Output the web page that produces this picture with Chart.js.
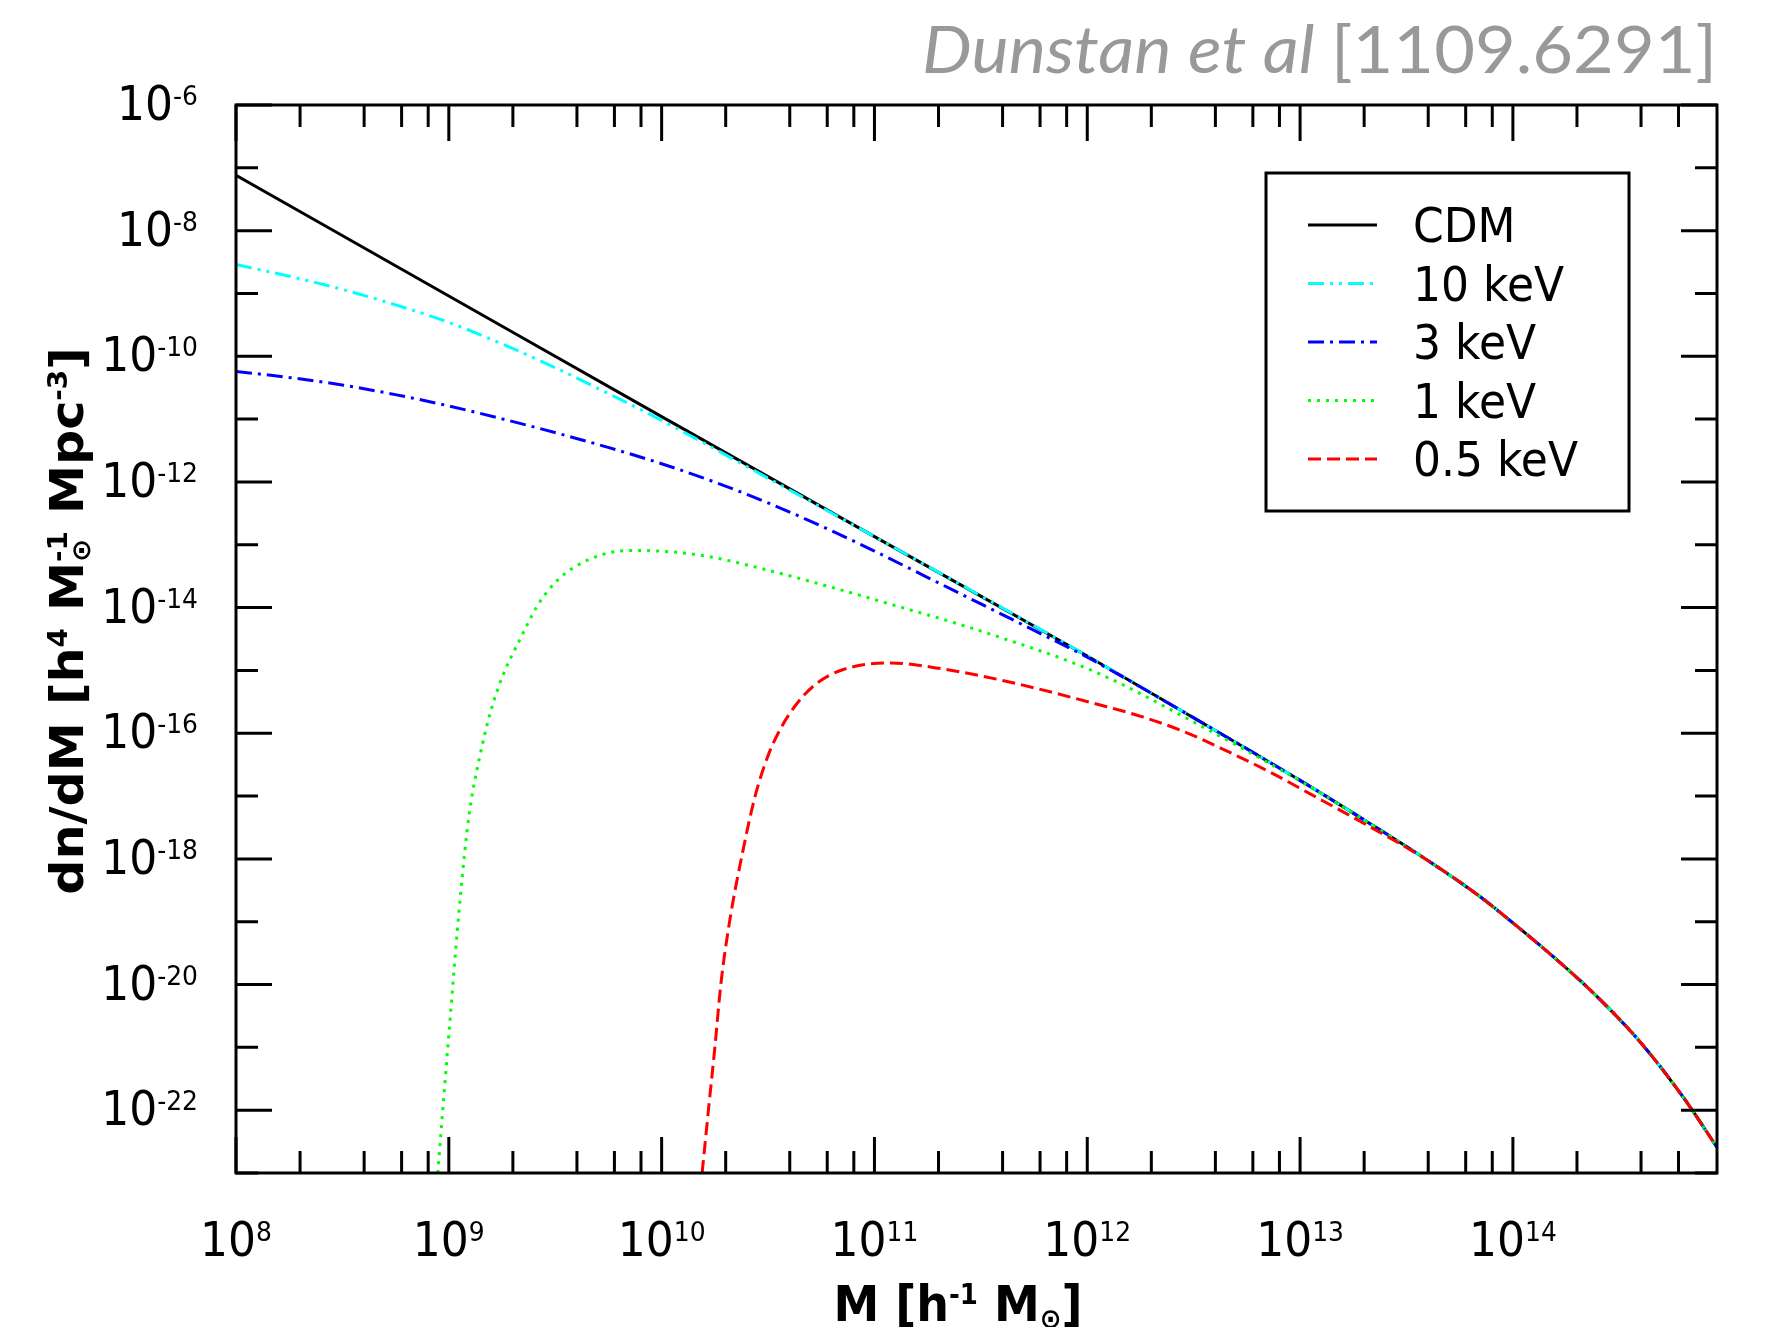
<!DOCTYPE html>
<html>
<head>
<meta charset="utf-8">
<script src="https://cdn.jsdelivr.net/npm/chart.js@4.4.1/dist/chart.umd.min.js"></script>
<style>
  html, body { margin: 0; padding: 0; background: #fff; }
  #wrap { width: 1768px; height: 1327px; position: relative; }
</style>
</head>
<body>
<div id="wrap"><canvas id="hmf"></canvas></div>
<script>
// halo mass function dn/dM (log-log)
const cdmMass = [1e8, 1e9, 1e10, 1e11, 1e12, 3e12, 1e13, 2e13];
const cdmDn = [7.59e-8, 9.12e-10, 1.096e-11, 1.349e-13, 1.698e-15, 1.95e-16, 1.778e-17, 4.169e-18];

const kev10Mass = [1e8, 1.8e8, 3.2e8, 5.6e8, 1e9, 1.8e9, 3.2e9, 5.6e9, 1e10, 3.2e10, 1e11, 1e12, 3e12, 1e13, 2e13];
const kev10Dn = [2.884e-9, 1.862e-9, 1.148e-9, 6.607e-10, 3.467e-10, 1.549e-10, 6.457e-11, 2.570e-11, 9.55e-12,
  1.122e-12, 1.349e-13, 1.698e-15, 1.95e-16, 1.778e-17, 4.169e-18];

const kev3Mass = [1e8, 1.8e8, 3.2e8, 5.6e8, 1e9, 1.8e9, 3.2e9, 5.6e9, 1e10, 1.8e10, 3.2e10, 5.6e10, 1e11, 1.8e11,
  3.2e11, 5.6e11, 1e12, 3e12, 1e13, 2e13];
const kev3Dn = [5.754e-11, 4.571e-11, 3.467e-11, 2.455e-11, 1.622e-11, 1e-11, 6.026e-12, 3.548e-12, 1.95e-12,
  9.772e-13, 4.571e-13, 1.995e-13, 7.943e-14, 2.951e-14, 1.122e-14, 4.365e-15, 1.622e-15, 1.95e-16, 1.778e-17, 4.169e-18];

const kev1Mass = [8.87e8, 1e9, 1.13e9, 1.245e9, 1.4e9, 1.58e9, 1.79e9, 2.17e9, 2.63e9, 3.27e9, 4.27e9,
  6e9, 7.6e9, 1.26e10, 1.74e10, 2.8e10, 4.6e10, 1.2e11, 3.2e11, 1.1e12, 3e12, 1e13, 2e13];
const kev1Dn = [1e-23, 1.585e-21, 2.291e-19, 5.012e-18, 4.365e-17, 2.344e-16, 8.128e-16, 3.236e-15,
  1.122e-14, 2.818e-14, 5.248e-14, 7.762e-14, 8.128e-14, 7.413e-14, 6.31e-14, 4.365e-14, 2.818e-14,
  1.122e-14, 4.169e-15, 9.333e-16, 1.66e-16, 1.738e-17, 4.169e-18];

const halfKevMass = [1.55e10, 1.66e10, 1.78e10, 1.9e10, 2.09e10, 2.4e10, 2.75e10, 3.16e10, 3.63e10, 4.27e10,
  5.25e10, 7.08e10, 1.2e11, 1.95e11, 4e11, 1.15e12, 1.82e12, 2.88e12, 4.57e12, 7.24e12, 1.15e13, 1.82e13];
const halfKevDn = [1e-23, 1.023e-22, 1.023e-21, 1.047e-20, 1.047e-19, 1.259e-18, 1e-17, 4.365e-17, 1.202e-16,
  2.818e-16, 5.888e-16, 1.023e-15, 1.318e-15, 1.096e-15, 6.918e-16, 2.818e-16, 1.82e-16, 1.047e-16, 5.129e-17,
  2.399e-17, 1.023e-17, 4.365e-18];

// all models follow the same cutoff at the high mass end
const tailMass = [4e13, 7e13, 1e14, 1.6e14, 2.5e14, 4e14, 6.3e14, 9.1e14];
const tailDn = [9.333e-19, 2.512e-19, 9.55e-20, 2.512e-20, 6.31e-21, 1.175e-21, 1.622e-22, 2.57e-23];

const labels = ['CDM', '10 keV', '3 keV', '1 keV', '0.5 keV'];

// axes
const xMin = 1e8, xMax = 9.1e14;
const yMin = 1e-23, yMax = 1e-6;
const xLabelExps = [8, 9, 10, 11, 12, 13, 14];
const xMinorSubs = [2, 4, 6, 8];
const yDecadeExps = [-23, -22, -21, -20, -19, -18, -17, -16, -15, -14, -13, -12, -11, -10, -9, -8, -7, -6];
const yLabelExps = [-6, -8, -10, -12, -14, -16, -18, -20, -22];

const series = [
  { mass: cdmMass, dn: cdmDn, color: '#000000', dash: [] },
  { mass: kev10Mass, dn: kev10Dn, color: '#00ffff', dash: [16, 6, 3, 6, 3, 6] },
  { mass: kev3Mass, dn: kev3Dn, color: '#0000ff', dash: [16, 6, 3, 6] },
  { mass: kev1Mass, dn: kev1Dn, color: '#00ff00', dash: [3, 6] },
  { mass: halfKevMass, dn: halfKevDn, color: '#ff0000', dash: [13, 6] }
];

const datasets = series.map((s, i) => {
  const xs = s.mass.concat(tailMass);
  const ys = s.dn.concat(tailDn);
  return {
    label: labels[i],
    data: xs.map((m, j) => ({ x: m, y: ys[j] })),
    borderColor: s.color,
    borderDash: s.dash,
    borderWidth: 3,
    borderCapStyle: 'butt',
    pointRadius: 0,
    pointHoverRadius: 0,
    fill: false,
    cubicInterpolationMode: 'monotone',
    clip: 0,
    order: series.length - i // last model drawn on top, as in the original
  };
});

const TEXT_SY = 1.07; // text in the reference is a bit taller than wide

function drawRich(ctx, parts, x, y, opt) {
  const font = p => (p.italic ? 'italic ' : '') + (opt.weight || 'normal') + ' ' +
    (p.s ? opt.script : opt.size) + 'px ' + opt.family;
  let w = 0;
  parts.forEach(p => {
    ctx.font = font(p);
    p.w = ctx.measureText(p.t).width;
    if (!p.stack) w += p.w;
  });
  const sx = opt.width ? opt.width / w : 1;
  let cx = opt.align === 'right' ? -w : opt.align === 'center' ? -w / 2 : 0;
  ctx.save();
  ctx.translate(x, y);
  if (opt.rotate) {
    ctx.scale(1, opt.sy || 1);
    ctx.rotate(opt.rotate);
  } else {
    ctx.scale(sx, opt.sy || 1);
  }
  ctx.textAlign = 'left';
  ctx.textBaseline = 'alphabetic';
  parts.forEach(p => {
    ctx.font = font(p);
    const dy = p.s === 'sup' ? -opt.rise : p.s === 'sub' ? opt.drop : 0;
    ctx.fillText(p.t, cx, dy);
    if (!p.stack) cx += p.w;
  });
  ctx.restore();
}

const decorate = {
  id: 'decorate',
  afterDatasetsDraw(chart) {
    const { ctx, chartArea: a } = chart;
    const xs = chart.scales.x, ys = chart.scales.y;
    ctx.save();
    ctx.strokeStyle = '#000';
    ctx.lineWidth = 3;
    ctx.lineCap = 'butt';
    ctx.setLineDash([]);

    // ticks pointing inwards on all four sides
    ctx.beginPath();
    yDecadeExps.forEach(e => {
      const py = ys.getPixelForValue(Number('1e' + e));
      const len = e % 2 === 0 ? 36 : 22;
      ctx.moveTo(a.left, py); ctx.lineTo(a.left + len, py);
      ctx.moveTo(a.right, py); ctx.lineTo(a.right - len, py);
    });
    xLabelExps.forEach(e => {
      const px = xs.getPixelForValue(Number('1e' + e));
      ctx.moveTo(px, a.bottom); ctx.lineTo(px, a.bottom - 36);
      ctx.moveTo(px, a.top); ctx.lineTo(px, a.top + 36);
      xMinorSubs.forEach(m => {
        const v = m * Number('1e' + e);
        if (v > 7e14) return; // reference has no 8e14 tick
        const pm = xs.getPixelForValue(v);
        ctx.moveTo(pm, a.bottom); ctx.lineTo(pm, a.bottom - 22);
        ctx.moveTo(pm, a.top); ctx.lineTo(pm, a.top + 22);
      });
    });
    ctx.stroke();
    ctx.strokeRect(a.left, a.top, a.right - a.left, a.bottom - a.top);

    // tick labels
    ctx.fillStyle = '#000';
    const tickOpt = { family: '"DejaVu Sans"', size: 44, script: 25, rise: 14, sy: TEXT_SY };
    yLabelExps.forEach(e => {
      const py = ys.getPixelForValue(Number('1e' + e));
      drawRich(ctx, [{ t: '10' }, { t: String(e), s: 'sup' }], a.left - 38, py + 15,
        Object.assign({ align: 'right' }, tickOpt));
    });
    xLabelExps.forEach(e => {
      const px = xs.getPixelForValue(Number('1e' + e));
      drawRich(ctx, [{ t: '10' }, { t: String(e), s: 'sup' }], px, a.bottom + 83,
        Object.assign({ align: 'center' }, tickOpt));
    });

    // axis titles
    const titleOpt = { family: '"DejaVu Sans"', weight: 'bold', size: 46, script: 26, rise: 16, drop: 7 };
    drawRich(ctx, [{ t: 'M [h' }, { t: '-1', s: 'sup' }, { t: ' M' }, { t: '\u2299', s: 'sub' }, { t: ']' }],
      958, 1321, Object.assign({ align: 'center', sy: TEXT_SY }, titleOpt));
    drawRich(ctx, [{ t: 'dn/dM [h' }, { t: '4', s: 'sup' }, { t: ' M' }, { t: '\u2299', s: 'sub', stack: true },
      { t: '-1', s: 'sup' }, { t: ' Mpc' }, { t: '-3', s: 'sup' }, { t: ']' }],
      83, 621, Object.assign({ align: 'center', rotate: -Math.PI / 2, sy: TEXT_SY }, titleOpt));

    // legend
    const lg = { left: 1266, top: 173, right: 1629, bottom: 511 };
    ctx.fillStyle = '#fff';
    ctx.fillRect(lg.left, lg.top, lg.right - lg.left, lg.bottom - lg.top);
    ctx.lineWidth = 3;
    ctx.strokeRect(lg.left, lg.top, lg.right - lg.left, lg.bottom - lg.top);
    chart.data.datasets.forEach((ds, i) => {
      const ry = 225 + i * 58.5;
      ctx.beginPath();
      ctx.strokeStyle = ds.borderColor;
      ctx.setLineDash(ds.borderDash);
      ctx.moveTo(1308, ry);
      ctx.lineTo(1377, ry);
      ctx.stroke();
      ctx.setLineDash([]);
      ctx.fillStyle = '#000';
      drawRich(ctx, [{ t: ds.label }], 1413, ry + 17,
        { family: '"DejaVu Sans"', size: 44, script: 44, sy: TEXT_SY });
    });

    // source note
    ctx.fillStyle = '#999999';
    drawRich(ctx, [{ t: 'Dunstan et al ', italic: true }, { t: '[1109.6291]' }], 1717, 73,
      { family: 'Lato', size: 66, script: 66, align: 'right', width: 795, sy: 1 });
    ctx.restore();
  }
};

new Chart(document.getElementById('hmf'), {
  type: 'line',
  data: { datasets: datasets },
  options: {
    responsive: true,
    maintainAspectRatio: false,
    animation: false,
    events: [],
    layout: { padding: { left: 236, right: 51, top: 105, bottom: 154 } },
    scales: {
      x: { type: 'logarithmic', min: xMin, max: xMax, display: false },
      y: { type: 'logarithmic', min: yMin, max: yMax, display: false }
    },
    plugins: { legend: { display: false }, tooltip: { enabled: false } }
  },
  plugins: [decorate]
});
</script>
</body>
</html>
